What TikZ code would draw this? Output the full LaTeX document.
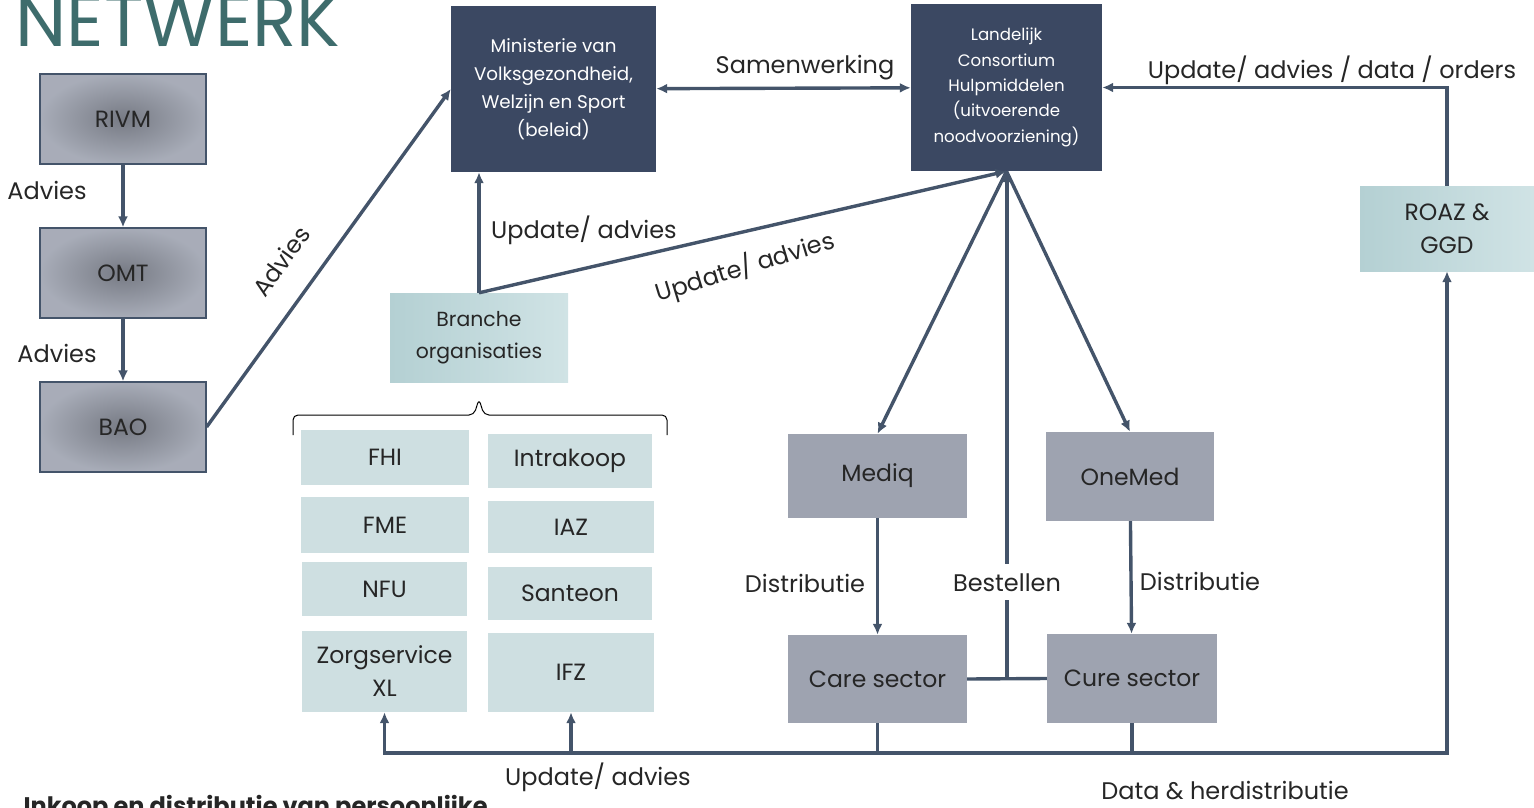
\documentclass[tikz,border=0pt]{standalone}
\usepackage{fontspec}
\setmainfont{Poppins}
\usetikzlibrary{arrows.meta,calc}
\definecolor{navy}{RGB}{59,72,98}
\definecolor{wire}{RGB}{68,84,106}
\definecolor{slate}{RGB}{158,163,176}
\definecolor{mist}{RGB}{206,223,225}
\definecolor{aquadark}{RGB}{180,208,211}
\definecolor{aqualight}{RGB}{208,227,229}
\definecolor{petrol}{RGB}{62,108,108}
\definecolor{ink}{RGB}{38,38,38}
\tikzset{box/.style={rectangle,inner sep=0pt,align=center,text=ink,font=\fontsize{23.5}{33}\selectfont},
  size/.style 2 args={minimum width=#1pt,minimum height=#2pt},
  shade/.style={box,draw=wire,line width=1.2pt,inner color=slate!75!black,outer color=slate!90!white},
  dark/.style={box,fill=navy,text=white},grey/.style={box,fill=slate},
  pale/.style={box,fill=mist},light/.style={box,left color=aquadark,right color=aqualight},
  lbl/.style={inner sep=0pt,text=ink,font=\fontsize{24}{28}\selectfont},
  wire/.style={draw=wire,line width=3.4pt},arr/.style={wire,-{Latex[length=11pt,width=10pt]}}}
\begin{document}
\begin{tikzpicture}[x=1pt,y=-1pt]
\useasboundingbox (0,0) rectangle (1534,808);
\node[anchor=base west,text=petrol,font=\fontsize{73}{75}\selectfont] (title) at (12,47) {NETWERK};
% left column
\node[shade,size={166}{90}] (rivm) at (123,119) {RIVM};
\node[shade,size={166}{90}] (omt) at (123,273) {OMT};
\node[shade,size={166}{90}] (bao) at (123,427) {BAO};
% top row
\node[dark,size={205}{166},font=\fontsize{18.3}{28}\selectfont] (min) at (553.5,89)
  {Ministerie van\\Volksgezondheid,\\Welzijn en Sport\\(beleid)};
\node[dark,size={191}{167},font=\fontsize{16.6}{25.3}\selectfont] (lch) at (1006.5,87.5)
  {Landelijk\\Consortium\\Hulpmiddelen\\(uitvoerende\\noodvoorziening)};
\node[light,size={174}{85}] (roaz) at (1447,228.5) {ROAZ \&\\GGD};
\node[light,size={178}{89},font=\fontsize{20.4}{32}\selectfont] (branche) at (479,337.5) {Branche\\organisaties};
% branche organisaties
\node[pale,size={168}{55}] (fhi) at (385,457.5) {FHI};
\node[pale,size={168}{56}] (fme) at (385,525) {FME};
\node[pale,size={165}{54}] (nfu) at (384.5,589) {NFU};
\node[pale,size={165}{81}] (zorg) at (384.5,671.5) {Zorgservice\\XL};
\node[pale,size={164}{54}] (intra) at (570,461) {Intrakoop};
\node[pale,size={166}{52}] (iaz) at (571,527) {IAZ};
\node[pale,size={164}{53}] (santeon) at (570,593.5) {Santeon};
\node[pale,size={166}{79}] (ifz) at (571,672.5) {IFZ};
\draw[line width=1pt,rounded corners=5pt] (293,435) -- (293,415) -- (474,415) -- (479,399)
  -- (484,415) -- (667,415) -- (667,435);
% leveranciers
\node[grey,size={179}{84}] (mediq) at (877.5,476) {Mediq};
\node[grey,size={168}{89}] (onemed) at (1130,476.5) {OneMed};
\node[grey,size={179}{88}] (care) at (877.5,679) {Care sector};
\node[grey,size={170}{89}] (cure) at (1132,678.5) {Cure sector};
% labels
\node[lbl] (adv1) at (47,190) {Advies};
\node[lbl] (adv2) at (57,353) {Advies};
\node[lbl,rotate=54] (adv3) at (281,261) {Advies};
\node[lbl] (samen) at (805,68) {Samenwerking};
\node[lbl] (upd1) at (584,230) {Update/ advies};
\node[lbl,rotate=17] (upd2) at (745,267) {Update/ advies};
\node[lbl] (upd3) at (1332,70) {Update/ advies / data / orders};
\node[lbl] (dist1) at (805,583) {Distributie};
\node[lbl] (dist2) at (1200,581) {Distributie};
\node[lbl] (upd4) at (598,777) {Update/ advies};
\node[lbl] (data) at (1225,791) {Data \& herdistributie};
\node[anchor=base west,text=ink,font=\fontsize{24}{28}\selectfont\bfseries] (inkoop) at (20,814)
  {Inkoop en distributie van persoonlijke};
% connectors
\draw[arr] (rivm) -- (omt);
\draw[arr] (omt) -- (bao);
\draw[arr] (bao.east) -- (min.west);
\draw[wire,{Latex[length=11pt,width=10pt]}-{Latex[length=11pt,width=10pt]}] (min) -- (lch);
\draw[arr] (roaz.north) |- (lch.east);
\draw[arr] (branche.north) -- (branche.north |- min.south);
\draw[arr] (branche.north) -- (lch.south);
\draw[arr] (lch.south) -- (mediq.north);
\draw[arr] (lch.south) -- (onemed.north);
\draw[arr] (mediq) -- (care);
\draw[arr] (onemed) -- (cure);
\coordinate (join) at ($(care.east)!0.5!(cure.west)$);
\draw[wire] (care.east) -- (cure.west);
\draw[arr] (join) -- node[lbl,pos=0.19,fill=white,inner ysep=9pt] (best) {Bestellen} (join |- lch.south);
\coordinate (bus) at (0,753);
\draw[wire] (care.south) -- (care.south |- bus);
\draw[arr] (cure.south) -- (cure.south |- bus) -| (zorg.south);
\draw[arr] (cure.south |- bus) -| (roaz.south);
\draw[arr] (ifz.south |- bus) -- (ifz.south);
\end{tikzpicture}
\end{document}
